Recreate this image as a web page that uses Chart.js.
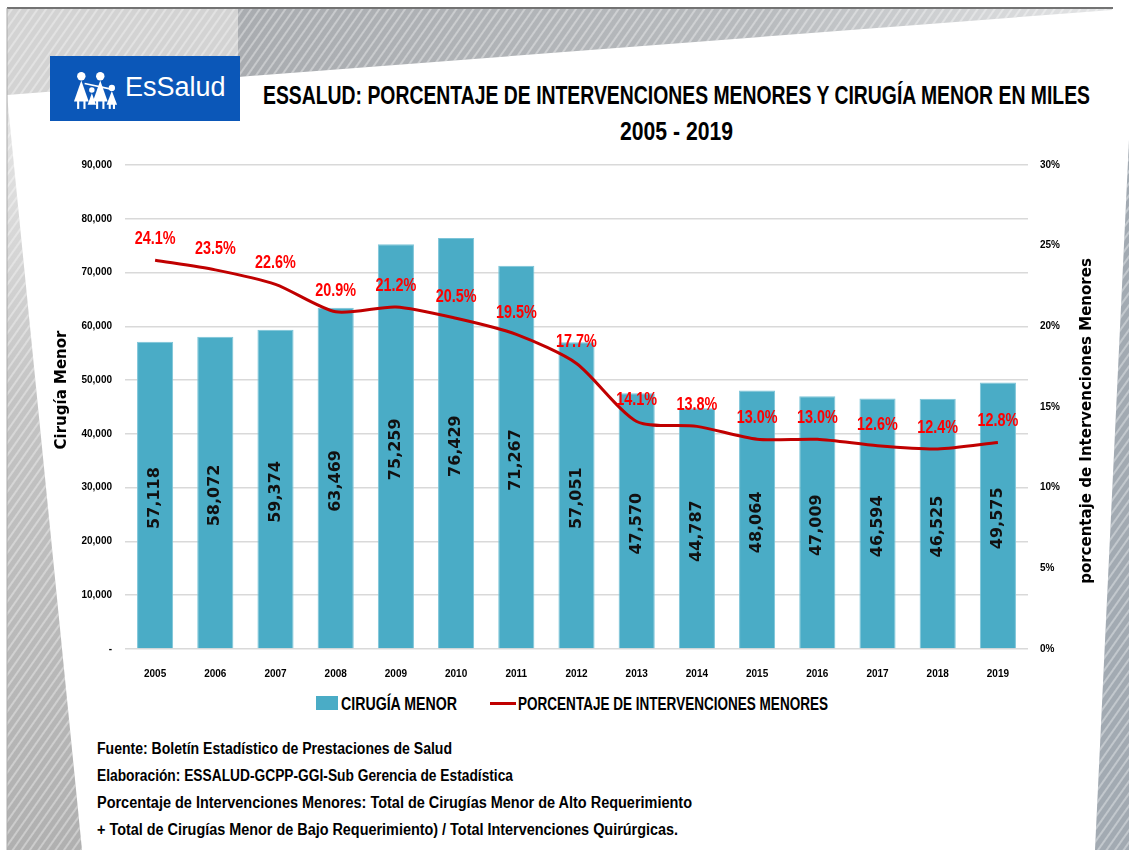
<!DOCTYPE html>
<html>
<head>
<meta charset="utf-8">
<script src="https://cdn.jsdelivr.net/npm/chart.js@4.4.1/dist/chart.umd.min.js"></script>
<style>
  html, body { margin:0; padding:0; background:#fff; }
  #page { position:relative; width:1129px; height:850px; overflow:hidden; background:#fff; }
  .fit { position:absolute; font-family:'Liberation Sans',Arial,sans-serif; font-weight:bold; color:#000; white-space:nowrap; transform-origin:0 50%; line-height:1; }
  #chartCanvas { position:absolute; left:0; top:150px; }
  #logo { position:absolute; left:50px; top:56px; width:190px; height:65px; background:#0b57b8; }
  #logoText { position:absolute; left:75px; top:16px; color:#fff; font-family:'Liberation Sans',Arial,sans-serif; font-size:27px; }
</style>
</head>
<body>
<div id="page">
  <svg width="1129" height="850" style="position:absolute;left:0;top:0">
    <defs>
      <pattern id="st" width="7" height="7" patternUnits="userSpaceOnUse" patternTransform="rotate(35)">
        <rect width="2" height="7" fill="rgba(255,255,255,0.35)"/>
      </pattern>
      <linearGradient id="gTop" x1="0" x2="1" y1="0" y2="0">
        <stop offset="0" stop-color="#a9acb0"/>
        <stop offset="0.6" stop-color="#b8bbbe"/>
        <stop offset="1" stop-color="#e4e5e6"/>
      </linearGradient>
      <linearGradient id="gLeft" x1="0" x2="0" y1="0" y2="1">
        <stop offset="0" stop-color="#e8e8e8"/>
        <stop offset="0.4" stop-color="#c4c4c4"/>
        <stop offset="1" stop-color="#b0b0b0"/>
      </linearGradient>
    </defs>
    <polygon points="238,9 1112,9 1112,10 238,77" fill="url(#gTop)"/>
    <polygon points="238,9 1112,9 1112,10 238,77" fill="url(#st)"/>
    <polygon points="7,9 238,9 238,77 7,95" fill="#d3d3d3"/>
    <polygon points="7,9 238,9 238,77 7,95" fill="url(#st)"/>
    <polygon points="7,95 82,850 7,850" fill="url(#gLeft)"/>
    <polygon points="7,95 82,850 7,850" fill="url(#st)"/>
    <polygon points="1129,140 1129,850 1095,850" fill="#a2aab2"/>
    <polygon points="1129,140 1129,850 1095,850" fill="url(#st)"/>
    <line x1="7" y1="8" x2="1113" y2="8" stroke="#444" stroke-width="1.5"/>
    <line x1="7" y1="8" x2="7" y2="850" stroke="#aaa" stroke-width="1"/>
  </svg>

  <div id="logo">
    <svg width="54" height="40" viewBox="0 0 44 38" style="position:absolute;left:18px;top:14px" fill="#fff">
      <circle cx="9" cy="6" r="4"/>
      <polygon points="9,10 2,30 16,30"/>
      <rect x="5" y="29" width="2" height="8"/><rect x="11" y="29" width="2" height="8"/>
      <circle cx="27" cy="6" r="4"/>
      <polygon points="27,10 20,30 34,30"/>
      <rect x="23" y="29" width="2" height="8"/><rect x="29" y="29" width="2" height="8"/>
      <circle cx="19" cy="19" r="2.6"/>
      <polygon points="19,22 15,33 23,33"/>
      <circle cx="38" cy="17" r="3"/>
      <polygon points="38,20 33,33 43,33"/>
      <rect x="35" y="32" width="2" height="5"/><rect x="39" y="32" width="2" height="5"/>
      <rect x="12" y="15" width="28" height="1.6" transform="rotate(12 26 15)"/>
    </svg>
    <div id="logoText">EsSalud</div>
  </div>

  <div class="fit" data-x="263" data-w="827" style="top:82px;font-size:26px">ESSALUD: PORCENTAJE DE INTERVENCIONES MENORES Y CIRUGÍA MENOR EN MILES</div>
  <div class="fit" data-x="620" data-w="113" style="top:118px;font-size:26px">2005 - 2019</div>

  <canvas id="chartCanvas" width="1129" height="530"></canvas>

  <div style="position:absolute;left:316px;top:696px;width:22px;height:14px;background:#4aacc6"></div>
  <div class="fit" data-x="341" data-w="116" style="top:694px;font-size:19px">CIRUGÍA MENOR</div>
  <div style="position:absolute;left:490px;top:702px;width:26px;height:3px;background:#c00000"></div>
  <div class="fit" data-x="518" data-w="310" style="top:694px;font-size:19px">PORCENTAJE DE INTERVENCIONES MENORES</div>

  <div class="fit" data-x="97" data-w="355" style="top:741px;font-size:16px">Fuente: Boletín Estadístico de Prestaciones de Salud</div>
  <div class="fit" data-x="97" data-w="416" style="top:768px;font-size:16px">Elaboración: ESSALUD-GCPP-GGI-Sub Gerencia de Estadística</div>
  <div class="fit" data-x="97" data-w="595" style="top:795px;font-size:16px">Porcentaje de Intervenciones Menores: Total de Cirugías Menor de Alto Requerimiento</div>
  <div class="fit" data-x="97" data-w="581" style="top:822px;font-size:16px">+ Total de Cirugías Menor de Bajo Requerimiento) / Total Intervenciones Quirúrgicas.</div>
</div>

<script>
const years = ['2005','2006','2007','2008','2009','2010','2011','2012','2013','2014','2015','2016','2017','2018','2019'];
const cirugiaMenor = [57118, 58072, 59374, 63469, 75259, 76429, 71267, 57051, 47570, 44787, 48064, 47009, 46594, 46525, 49575];
const porcentaje = [24.1, 23.5, 22.6, 20.9, 21.2, 20.5, 19.5, 17.7, 14.1, 13.8, 13.0, 13.0, 12.6, 12.4, 12.8];
const leftTicksMax = 90000, leftStep = 10000;
const rightTicksMax = 30, rightStep = 5;

document.querySelectorAll('.fit').forEach(el => {
  const w = el.getBoundingClientRect().width;
  const target = parseFloat(el.dataset.w);
  el.style.left = el.dataset.x + 'px';
  el.style.transform = 'scaleX(' + (target / w) + ')';
});

const SANS = "'Liberation Sans',Arial,sans-serif";

const labelsPlugin = {
  id: 'labelsPlugin',
  afterDatasetsDraw(chart) {
    const ctx = chart.ctx;
    const barMeta = chart.getDatasetMeta(1);
    ctx.save();
    ctx.font = "bold 16px 'DejaVu Sans', Verdana, sans-serif";
    ctx.fillStyle = '#111';
    ctx.textAlign = 'center';
    ctx.textBaseline = 'middle';
    barMeta.data.forEach((el, i) => {
      const ym = (el.y + el.base) / 2 + 3;
      ctx.save();
      ctx.translate(el.x, ym);
      ctx.rotate(-Math.PI / 2);
      ctx.fillText(cirugiaMenor[i].toLocaleString('en-US'), 0, 0);
      ctx.restore();
    });
    ctx.restore();
    const lineMeta = chart.getDatasetMeta(0);
    ctx.save();
    ctx.font = "bold 18px " + SANS;
    ctx.fillStyle = '#ff0000';
    ctx.textAlign = 'center';
    ctx.textBaseline = 'middle';
    lineMeta.data.forEach((el, i) => {
      ctx.save();
      ctx.translate(el.x, el.y - 21);
      ctx.scale(0.8, 1);
      ctx.fillText(porcentaje[i].toFixed(1) + '%', 0, 0);
      ctx.restore();
    });
    ctx.restore();
    ctx.save();
    ctx.font = "bold 15px 'DejaVu Sans', Verdana, sans-serif";
    ctx.fillStyle = '#000';
    ctx.textAlign = 'center';
    ctx.textBaseline = 'middle';
    ctx.translate(62, 240);
    ctx.rotate(-Math.PI / 2);
    ctx.fillText('Cirugía Menor', 0, 0);
    ctx.restore();
    ctx.save();
    ctx.font = "bold 15px 'DejaVu Sans', Verdana, sans-serif";
    ctx.fillStyle = '#000';
    ctx.textAlign = 'center';
    ctx.textBaseline = 'middle';
    ctx.translate(1087, 271);
    ctx.rotate(-Math.PI / 2);
    ctx.fillText('porcentaje de Intervenciones Menores', 0, 0);
    ctx.restore();
  }
};

new Chart(document.getElementById('chartCanvas'), {
  data: {
    labels: years,
    datasets: [
      {
        type: 'line',
        label: 'PORCENTAJE DE INTERVENCIONES MENORES',
        data: porcentaje,
        yAxisID: 'y1',
        borderColor: '#c00000',
        borderWidth: 3,
        pointRadius: 0,
        tension: 0.25,
        order: 0
      },
      {
        type: 'bar',
        label: 'CIRUGÍA MENOR',
        data: cirugiaMenor,
        yAxisID: 'y',
        backgroundColor: '#4aacc6',
        borderColor: '#7cc4d8',
        borderWidth: 1,
        barPercentage: 0.6,
        categoryPercentage: 1.0,
        order: 1
      }
    ]
  },
  options: {
    responsive: false,
    devicePixelRatio: 1,
    animation: false,
    layout: { padding: { top: 0, left: 0, right: 0, bottom: 0 } },
    plugins: { legend: { display: false }, tooltip: { enabled: false } },
    scales: {
      x: {
        offset: true,
        grid: { display: false },
        border: { display: false },
        ticks: { color: '#000', font: { family: SANS, weight: 'bold', size: 10 }, padding: 11, maxRotation: 0 },
        afterFit(s) { s.height = 31; }
      },
      y: {
        position: 'left',
        min: 0, max: leftTicksMax,
        grid: { color: '#d9d9d9', lineWidth: 1.5, drawTicks: false },
        border: { display: false },
        ticks: {
          stepSize: leftStep, padding: 13, color: '#000',
          font: { family: SANS, weight: 'bold', size: 10 },
          callback: v => v === 0 ? '-' : v.toLocaleString('en-US')
        },
        afterFit(s) { s.width = 125; s.paddingTop = 15; }
      },
      y1: {
        position: 'right',
        min: 0, max: rightTicksMax,
        grid: { display: false, drawTicks: false },
        border: { display: false },
        ticks: {
          stepSize: rightStep, padding: 12, color: '#000',
          font: { family: SANS, weight: 'bold', size: 10 },
          callback: v => v + '%'
        },
        afterFit(s) { s.width = 101; s.paddingTop = 15; }
      }
    }
  },
  plugins: [labelsPlugin]
});
</script>
</body>
</html>
